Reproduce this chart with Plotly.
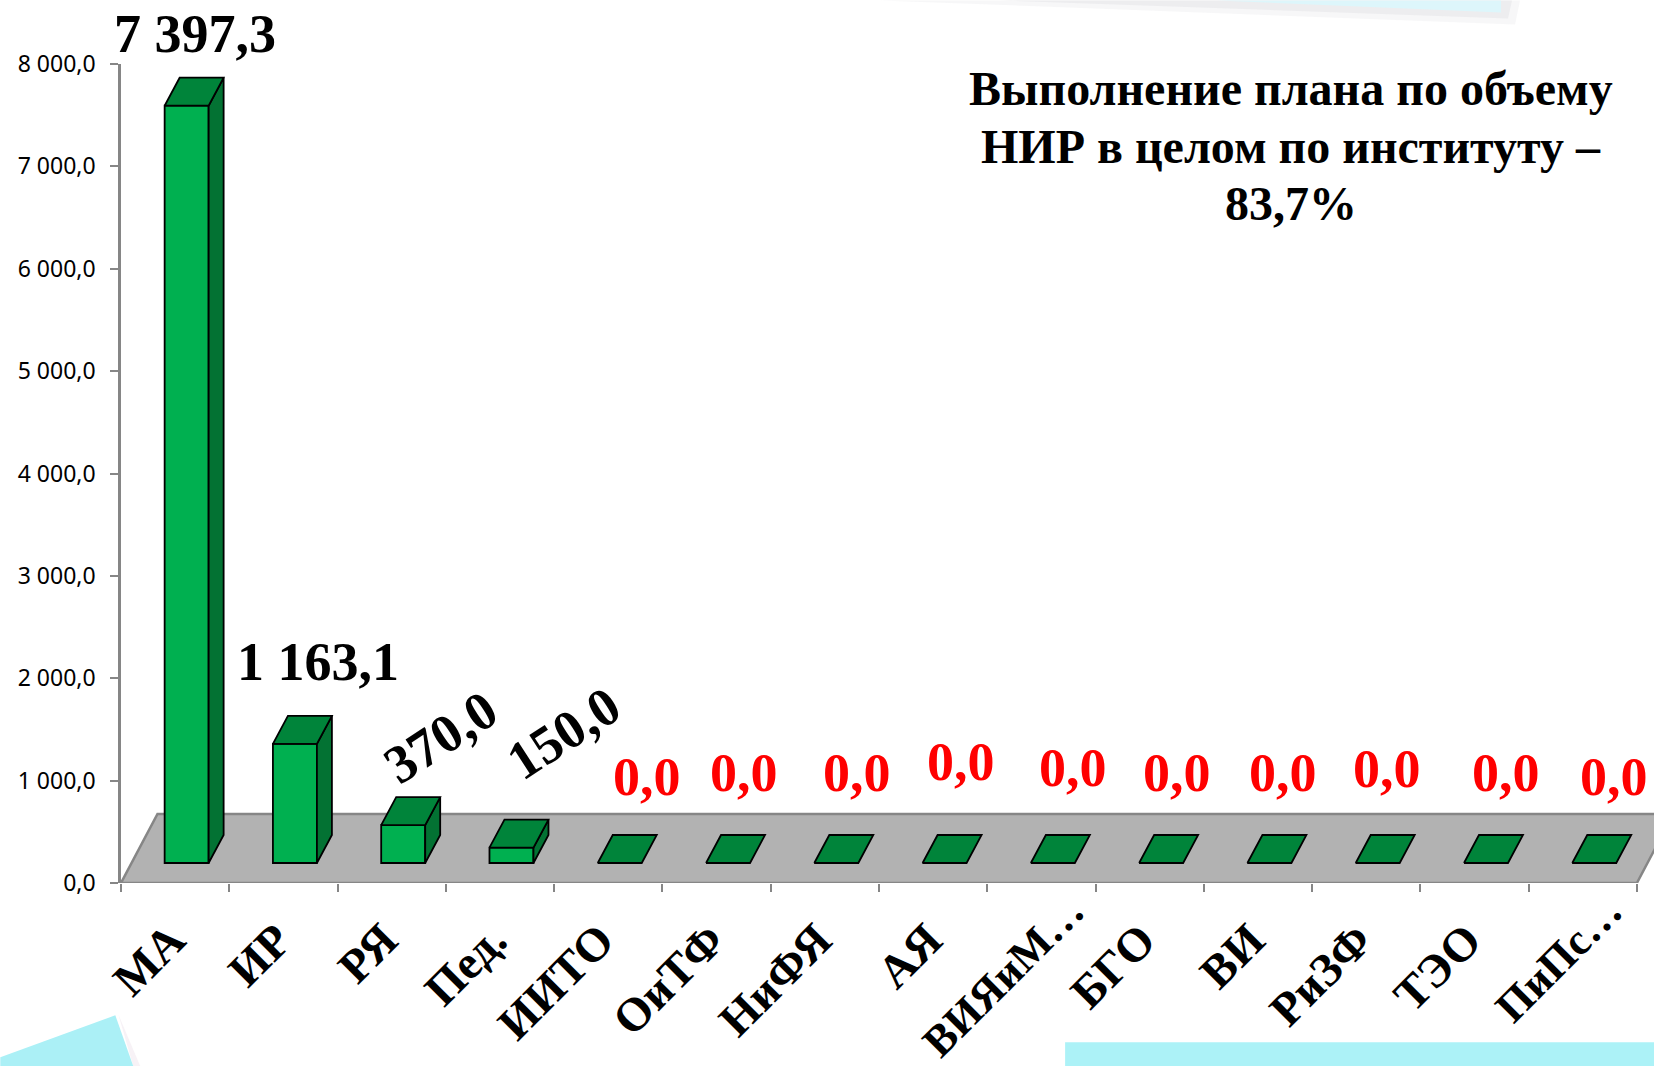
import plotly.graph_objects as go

categories = ["МА", "ИР", "РЯ", "Пед.", "ИИТО", "ОиТФ", "НиФЯ", "АЯ", "БГО", "ВИ", "РиЗФ", "ТЭО"]
category_idx = [0, 1, 2, 3, 4, 5, 6, 7, 9, 10, 11, 12]
long_categories = ["ВИЯиМ…", "ПиПс…"]
long_category_idx = [8, 13]
values = [7397.3, 1163.1, 370.0, 150.0, 0, 0, 0, 0, 0, 0, 0, 0, 0, 0]
value_labels = ["7 397,3", "1 163,1", "370,0", "150,0"] + ["0,0"] * 10
y_ticks = [0, 1000, 2000, 3000, 4000, 5000, 6000, 7000, 8000]
title_lines = ["Выполнение плана по объему", "НИР в целом по институту –", "83,7%"]

W, H = 1654, 1066
L, T, B = 120.7, 63.6, 882.7
px_x = 108.3
px_y = (B - T) / 8000

DX = 15 / px_x          # depth of the 3D bars, in axis units
DY = 28 / px_y
LIFT = 20 / px_y        # bars stand on the floor, above the axis zero
BAR_W = 44 / px_x
BAR_OFF = 11.5 / px_x
FLOOR_DX = 36.5 / px_x
FLOOR_DY = 69 / px_y
X_MAX = -0.5 + (W - L) / px_x

GREEN, TOP, SIDE = "#00B050", "#00843A", "#037233"


def paper_x(px):
    return (px - L) / (W - L)


def paper_y(py):
    return (B - py) / (B - T)


# pixel centre of each value label
label_px = [(195, 34), (318, 662), (441, 737), (564, 733), (647, 777), (744, 773), (857, 773), (961, 762),
            (1073, 768), (1177, 773), (1283, 773), (1387, 769), (1506, 773), (1614, 777)]
label_rot = [0, 0, -33, -33] + [0] * 10
title_py = [88, 146, 203]
# horizontal shift of each category label from its category centre (axis units)
cat_shift = [-0.036, -0.056, -0.075, -0.067, -0.076, -0.057, -0.067, -0.046, -0.076, -0.067, -0.076, -0.067]
long_cat_shift = [0.274, 0.244]

centres = [i + BAR_OFF for i in range(len(values))]
fig = go.Figure()

for c, v in zip(centres, values):
    l, r = c - BAR_W / 2, c + BAR_W / 2
    y0, y1 = LIFT, LIFT + v
    if v > 0:
        fig.add_trace(go.Scatter(
            x=[r, r + DX, r + DX, r, r], y=[y0, y0 + DY, y1 + DY, y1, y0],
            mode="lines", fill="toself", fillcolor=SIDE, line=dict(color="black", width=1.8),
            hoverinfo="skip", cliponaxis=False, showlegend=False))
    fig.add_trace(go.Scatter(
        x=[l, r, r + DX, l + DX, l], y=[y1, y1, y1 + DY, y1 + DY, y1],
        mode="lines", fill="toself", fillcolor=TOP, line=dict(color="black", width=1.8),
        hoverinfo="skip", cliponaxis=False, showlegend=False))

fig.add_trace(go.Bar(
    x=centres, y=values, base=LIFT, width=BAR_W,
    marker=dict(color=GREEN, line=dict(color="black", width=1.8)),
    hoverinfo="skip", showlegend=False))

# invisible trace that keeps the second category axis alive
fig.add_trace(go.Scatter(x=long_category_idx, y=[0, 0], xaxis="x2", mode="lines", opacity=0,
                         hoverinfo="skip", showlegend=False))

annotations = []
for (px, py), text, rot, v in zip(label_px, value_labels, label_rot, values):
    annotations.append(dict(
        x=paper_x(px), y=paper_y(py), xref="paper", yref="paper", text=text, showarrow=False,
        textangle=rot, xanchor="center", yanchor="middle",
        font=dict(family="Liberation Serif", size=54, color="black" if v > 0 else "#FF0000", weight="bold")))
for line, py in zip(title_lines, title_py):
    annotations.append(dict(
        x=paper_x(1291), y=paper_y(py), xref="paper", yref="paper", showarrow=False,
        text=line, align="center", xanchor="center", yanchor="middle",
        font=dict(family="Liberation Serif", size=48, color="black", weight="bold")))
fig.update_layout(annotations=annotations)


def poly(points, color, opacity=1.0):
    path = "M " + " L ".join(f"{paper_x(x)},{paper_y(y)}" for x, y in points) + " Z"
    return dict(type="path", xref="paper", yref="paper", path=path, fillcolor=color,
                line=dict(width=0), layer="below", opacity=opacity)


floor = dict(
    type="path", xref="x", yref="y", layer="below", fillcolor="#B2B2B2",
    line=dict(color="#868686", width=2.5),
    path=f"M -0.5,0 L 13.5,0 L {13.5 + FLOOR_DX},{FLOOR_DY} L {-0.5 + FLOOR_DX},{FLOOR_DY} Z")

cat_font = dict(family="Liberation Serif", size=47, color="black", weight="bold")
long_cat_font = dict(family="Liberation Serif", size=44, color="black", weight="bold")

fig.update_layout(
    width=W, height=H, margin=dict(l=L, r=0, t=T, b=H - B, pad=0),
    plot_bgcolor="rgba(0,0,0,0)", paper_bgcolor="white", separators=", ", barmode="overlay",
    font=dict(family="Noto Sans"),
    shapes=[
        poly([(880, 0), (1515, 24), (1520, 0)], "#F2F2F4", 0.6),
        poly([(1000, 0), (1508, 18), (1512, 0)], "#E6E6EA", 0.6),
        poly([(1217, 0), (1501, 12), (1501, 0)], "#DDF6FB"),
        poly([(118, 1014), (140, 1066), (133, 1066)], "#F7F2F6"),
        poly([(115, 1015), (133, 1066), (0, 1066), (0, 1057)], "#ABF0F6"),
        poly([(1065, 1042), (1654, 1042), (1654, 1066), (1065, 1066)], "#ACF2F7"),
        floor,
    ],
    xaxis=dict(
        range=[-0.5, X_MAX], automargin=False, showgrid=False, zeroline=False, showline=False,
        tickmode="array", tickvals=[i + s for i, s in zip(category_idx, cat_shift)], ticktext=categories,
        tickangle=-45, ticks="", ticklabelstandoff=19, tickfont=cat_font,
        minor=dict(tickmode="array", tickvals=[i - 0.5 for i in range(15)], ticks="outside",
                   ticklen=8, tickwidth=2, tickcolor="#868686", showgrid=False),
    ),
    xaxis2=dict(
        overlaying="x", anchor="y", side="bottom", matches="x", automargin=False,
        showgrid=False, zeroline=False, showline=False,
        tickmode="array", tickvals=[i + s for i, s in zip(long_category_idx, long_cat_shift)],
        ticktext=long_categories, tickangle=-45, ticks="", ticklabelstandoff=-8, tickfont=long_cat_font,
    ),
    yaxis=dict(
        range=[0, 8000], automargin=False, tickmode="array", tickvals=y_ticks, tickformat=",.1f",
        showgrid=False, zeroline=False, showline=True, linecolor="#868686", linewidth=2.5,
        ticks="outside", ticklen=8, tickwidth=2, tickcolor="#868686", ticklabelstandoff=10,
        tickfont=dict(family="Noto Sans", size=23, color="black"),
    ),
)

fig.write_html("out.html", post_script="document.body.style.margin='0';",
               config=dict(displayModeBar=False))
